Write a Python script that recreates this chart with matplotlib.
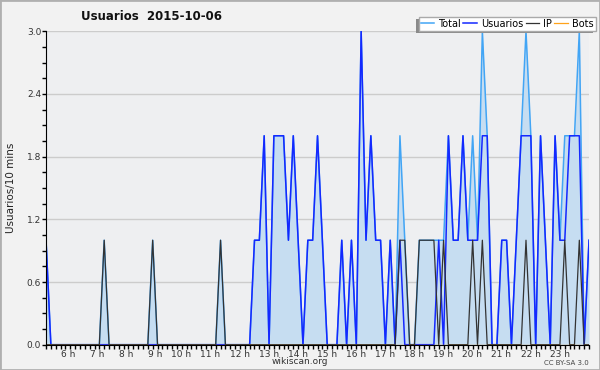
import numpy as np
import matplotlib.pyplot as plt
from matplotlib.patches import Rectangle

# 10-minute slots starting at 5:00
usuarios = [1, 0, 0, 0, 0, 0, 0, 0, 0, 0, 0, 0, 0, 0, 0, 0, 0, 0, 0, 0,
            0, 0, 0, 0, 0, 0, 0, 0, 0, 0, 0, 0, 0, 0, 0, 0, 0, 0, 0, 0,
            0, 0, 0, 1, 1, 2, 0, 2, 2, 2, 1, 2, 1, 0, 1, 1, 2, 1, 0, 0,
            0, 1, 0, 1, 0, 3, 1, 2, 1, 1, 0, 1, 0, 1, 0, 0, 0, 0, 0, 0,
            0, 1, 0, 2, 1, 1, 2, 1, 1, 1, 2, 2, 0, 0, 1, 1, 0, 1, 2, 2,
            2, 0, 2, 1, 0, 2, 1, 1, 2, 2, 2, 0, 1]
ip = [0, 0, 0, 0, 0, 0, 0, 0, 0, 0, 0, 0, 1, 0, 0, 0, 0, 0, 0, 0,
      0, 0, 1, 0, 0, 0, 0, 0, 0, 0, 0, 0, 0, 0, 0, 0, 1, 0, 0, 0,
      0, 0, 0, 0, 0, 0, 0, 0, 0, 0, 0, 0, 0, 0, 0, 0, 0, 0, 0, 0,
      0, 0, 0, 0, 0, 0, 0, 0, 0, 0, 0, 0, 0, 1, 1, 0, 0, 1, 1, 1,
      1, 0, 1, 0, 0, 0, 0, 0, 1, 0, 1, 0, 0, 0, 0, 0, 0, 0, 0, 1,
      0, 0, 0, 0, 0, 0, 0, 1, 0, 0, 1, 0, 0]
bots = [0] * len(usuarios)
total = [u + p + b for u, p, b in zip(usuarios, ip, bots)]
hours = list(range(6, 24))
start_hour = 5

t = start_hour + np.arange(len(usuarios)) / 6.0

fig = plt.figure(figsize=(6, 3.7), dpi=100, facecolor='#f2f2f2')
fig.patches.append(Rectangle((0, 0), 1, 1, transform=fig.transFigure,
                             fill=False, edgecolor='#b0b0b0', lw=2))
ax = fig.add_axes([0.0767, 0.0684, 0.905, 0.847])
ax.set_facecolor('#eeeff1')

ax.fill_between(t, total, color='#c6ddf1', lw=0)
ax.plot(t, total, color='#42a5f5', lw=1.1, label='Total')
ax.plot(t, usuarios, color='#1428ff', lw=1.1, label='Usuarios')
ax.plot(t, ip, color='#333333', lw=0.9, label='IP')
ax.plot(t, bots, color='#ffa31a', lw=0.9, label='Bots')

ax.set_xlim(t[0], t[-1])
ax.set_ylim(0, 3.0)
ax.set_yticks(np.arange(0, 3.01, 0.6))
ax.set_yticks(np.arange(0, 3.01, 0.15), minor=True)
ax.set_yticklabels(['%.1f' % v for v in np.arange(0, 3.01, 0.6)])
ax.set_xticks(hours)
ax.set_xticklabels(['%d h' % h for h in hours], ha='right')
ax.set_xticks(t, minor=True)
ax.grid(axis='y', color='#cccccc', lw=1)
ax.set_axisbelow(True)
for s in ['top', 'right']:
    ax.spines[s].set_visible(False)
ax.tick_params(axis='both', which='both', direction='out', color='black',
               labelsize=6.5, labelcolor='#333333', length=3, width=1, pad=0.5)

ax.set_ylabel('Usuarios/10 mins', fontsize=7.5, color='#222222', labelpad=8)
fig.text(0.252, 0.955, 'Usuarios  2015-10-06', fontsize=8.5, fontweight='bold',
         ha='center', va='center', color='#111111')
fig.text(0.5, 0.022, 'wikiscan.org', fontsize=6.5, ha='center', va='center', color='#333333')
fig.text(0.982, 0.02, 'CC BY-SA 3.0', fontsize=5, ha='right', va='center', color='#444444')

leg = ax.legend(loc='upper right', bbox_to_anchor=(1.012, 1.046), ncol=4, fontsize=7,
                frameon=True, fancybox=False, handlelength=1.4, handletextpad=0.4,
                columnspacing=0.25, borderpad=0.2, borderaxespad=0)
leg.get_frame().set_edgecolor('#aaaaaa')
leg.get_frame().set_facecolor('white')
leg.get_frame().set_alpha(1)

# shadow down-left of the legend box
fig.canvas.draw()
bb = leg.get_window_extent()
ax.add_patch(Rectangle((bb.x0 - 2.5, bb.y0 - 2.5), bb.width, bb.height, transform=None,
                       facecolor='#8a8a8a', edgecolor='none', zorder=4.9, clip_on=False))

fig.savefig('out.png', dpi=100, facecolor=fig.get_facecolor())
